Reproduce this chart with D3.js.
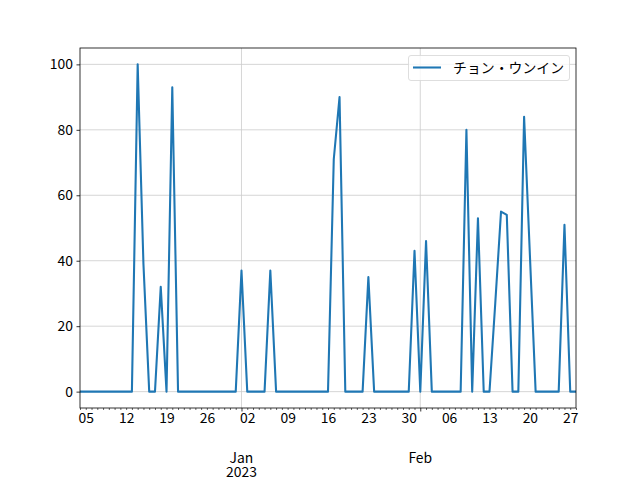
<!DOCTYPE html>
<html><head><meta charset="utf-8">
<script src="https://cdn.jsdelivr.net/npm/d3@7"></script>
<style>
html,body{margin:0;padding:0;background:#fff;}
svg text{font-family:"Noto Sans CJK JP","Noto Sans",sans-serif;}
</style></head>
<body><svg id="c" width="640" height="480"></svg>
<script>
const seriesName = "チョン・ウンイン";
const startDate = "2022-12-04";
const endDate = "2023-02-28";
const values = [
  0,0,0,0,0,0,0,0,0,0,      // Dec 4 - Dec 13
  100,39,0,0,32,0,93,0,0,0, // Dec 14 - Dec 23
  0,0,0,0,0,0,0,0,37,0,     // Dec 24 - Jan 2
  0,0,0,37,0,0,0,0,0,0,     // Jan 3 - Jan 12
  0,0,0,0,71,90,0,0,0,0,    // Jan 13 - Jan 22
  35,0,0,0,0,0,0,0,43,0,    // Jan 23 - Feb 1
  46,0,0,0,0,0,0,80,0,53,   // Feb 2 - Feb 11
  0,0,27,55,54,0,0,84,42,0, // Feb 12 - Feb 21
  0,0,0,0,51,0,0            // Feb 22 - Feb 28
];
const yTicks = [0,20,40,60,80,100];
const majorLabels = [["Jan","2023"],["Feb"]];

const parse = d3.utcParse("%Y-%m-%d");
const t0 = parse(startDate), t1 = parse(endDate);
const dates = d3.utcDay.range(t0, d3.utcDay.offset(t1,1));
const data = dates.map((d,i)=>({date:d, value:values[i]}));

const svg = d3.select("#c");
const L=80, R=576, T=48, B=408;
const x = d3.scaleUtc().domain([t0,t1]).range([L,R]);
const y = d3.scaleLinear().domain([-5,105]).range([B,T]);
const FS = 13.9;

// grid
const majors = d3.utcMonth.range(t0, t1).filter(d=>d>=t0);
svg.append("g").selectAll("line").data(yTicks).join("line")
  .attr("x1",L).attr("x2",R).attr("y1",d=>y(d)).attr("y2",d=>y(d))
  .attr("stroke","#cbcbcb").attr("stroke-width",0.8);
svg.append("g").selectAll("line").data(majors).join("line")
  .attr("x1",d=>x(d)).attr("x2",d=>x(d)).attr("y1",T).attr("y2",B)
  .attr("stroke","#cbcbcb").attr("stroke-width",0.8);

// line
svg.append("path").datum(data)
  .attr("d", d3.line().x(d=>x(d.date)).y(d=>y(d.value)))
  .attr("fill","none").attr("stroke","#1f77b4").attr("stroke-width",2.08)
  .attr("stroke-linejoin","round");

// frame
svg.append("rect").attr("x",L).attr("y",T).attr("width",R-L).attr("height",B-T)
  .attr("fill","none").attr("stroke","#000").attr("stroke-width",0.8);

// y axis
const yAxis = d3.axisLeft(y).tickValues(yTicks).tickSize(3.5).tickPadding(3.5);
const gy = svg.append("g").attr("transform",`translate(${L},0)`).call(yAxis);
gy.select(".domain").remove();
gy.selectAll("line").attr("stroke","#000").attr("stroke-width",0.8);
gy.selectAll("text").attr("font-size",FS).attr("fill","#000")
  .attr("font-family","Noto Sans CJK JP");

// x minor ticks (daily)
const minor = dates.filter(d=>!majors.some(m=>+m===+d));
const gx = svg.append("g").attr("transform",`translate(0,${B})`);
const xMinor = d3.axisBottom(x).tickValues(minor).tickSize(2).tickPadding(3.4)
  .tickFormat(d=> d.getUTCDay()===1 ? d3.utcFormat("%d")(d) : "");
gx.call(xMinor);
gx.select(".domain").remove();
gx.selectAll("line").attr("stroke","#000").attr("stroke-width",0.6);
gx.selectAll("text").attr("font-size",FS).attr("fill","#000")
  .attr("font-family","Noto Sans CJK JP");

// x major ticks
const gxm = svg.append("g").attr("transform",`translate(0,${B})`);
const xMajor = d3.axisBottom(x).tickValues(majors).tickSize(3.5).tickFormat("");
gxm.call(xMajor);
gxm.select(".domain").remove();
gxm.selectAll("line").attr("stroke","#000").attr("stroke-width",0.8);
majors.forEach((m,i)=>{
  const lines = majorLabels[i] || [];
  const t = svg.append("text").attr("x",x(m)).attr("y",462.5)
    .attr("text-anchor","middle").attr("font-size",FS).attr("fill","#000");
  lines.forEach((s,j)=>{
    t.append("tspan").attr("x",x(m)).attr("dy", j===0 ? 0 : 14.5).text(s);
  });
});

// legend
const lg = svg.append("g");
lg.append("rect").attr("x",408.5).attr("y",55.5).attr("width",161).attr("height",25)
  .attr("rx",2.5).attr("fill","#fff").attr("fill-opacity",0.8)
  .attr("stroke","#d5d5d5").attr("stroke-width",0.8);
lg.append("line").attr("x1",413).attr("x2",441).attr("y1",67.5).attr("y2",67.5)
  .attr("stroke","#1f77b4").attr("stroke-width",2.08);
lg.append("text").attr("x",453).attr("y",72.5).attr("font-size",FS).attr("fill","#000")
  .text(seriesName);
</script></body></html>
